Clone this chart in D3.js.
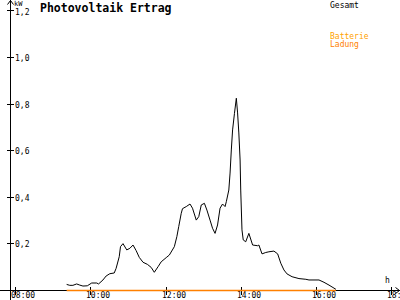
<!DOCTYPE html>
<html>
<head>
<meta charset="utf-8">
<script src="https://cdn.jsdelivr.net/npm/d3@7"></script>
<style>
body { margin: 0; background: #fff; }
svg { display: block; }
text { font-family: "DejaVu Sans Mono", monospace; }
</style>
</head>
<body>
<div id="chart"></div>
<script>
var zeiten = ["09:22","09:27","09:32","09:38","09:43","09:48","09:55","10:02","10:10","10:13",
    "10:20","10:25","10:31","10:38","10:41","10:46","10:48","10:52","10:58","11:03",
    "11:08","11:13","11:18","11:24","11:31","11:37","11:42","11:48","11:53","12:01",
    "12:06","12:14","12:18","12:21","12:25","12:27","12:33","12:39","12:43","12:49",
    "12:53","12:57","13:02","13:06","13:11","13:15","13:19","13:23","13:27","13:31",
    "13:35","13:37","13:41","13:43","13:45","13:47","13:50","13:53","13:55","13:57",
    "13:59","14:00","14:02","14:04","14:08","14:13","14:19","14:27","14:29","14:34",
    "14:40","14:45","14:53","14:59","15:04","15:09","15:14","15:22","15:33","15:44",
    "15:49","16:05","16:13","16:21","16:32"];
var gesamt = [0.024,0.020,0.020,0.026,0.021,0.017,0.018,0.030,0.030,0.026,
    0.043,0.060,0.070,0.073,0.093,0.143,0.186,0.199,0.172,0.179,
    0.193,0.169,0.140,0.119,0.110,0.097,0.076,0.100,0.121,0.139,
    0.150,0.186,0.229,0.272,0.329,0.349,0.358,0.369,0.351,0.300,
    0.315,0.365,0.372,0.343,0.300,0.265,0.243,0.279,0.351,0.369,
    0.358,0.379,0.429,0.502,0.601,0.687,0.758,0.823,0.760,0.674,
    0.558,0.429,0.258,0.215,0.207,0.243,0.193,0.190,0.193,0.155,
    0.161,0.164,0.167,0.155,0.115,0.086,0.069,0.057,0.049,0.046,
    0.043,0.043,0.033,0.021,0.003];
// Ladung: ganze Zeit 0
var ladungZeiten = ["09:22","16:32"];
var ladung = [0, 0];

var xTicks = [8, 10, 12, 14, 16, 18];
var xTickLabels = ["08:00","10:00","12:00","14:00","16:00","18:00"];
var yTicks = [0.2, 0.4, 0.6, 0.8, 1.0, 1.2];
var yTickLabels = ["0,2","0,4","0,6","0,8","1,0","1,2"];
var serien = ["Gesamt", "Batterie", "Ladung"];
var farben = ["#000000", "#ffa200", "#ff8000"];

var width = 400, height = 300;
var x0 = 10; // y-Achse
var y0 = 290; // x-Achse

function stunden(t) {
    var p = t.split(":");
    return +p[0] + p[1] / 60;
}

var x = d3.scaleLinear().domain([8, 18]).range([15.3, 391]);
var y = d3.scaleLinear().domain([0, 1.2]).range([y0, 10.4]);

var svg = d3.select("#chart").append("svg")
    .attr("width", width)
    .attr("height", height);

// Achsen
var achsen = svg.append("g").attr("stroke", "#000").attr("fill", "none").attr("shape-rendering", "crispEdges");
achsen.append("line").attr("x1", x0 + 0.5).attr("x2", x0 + 0.5).attr("y1", 0).attr("y2", height);
achsen.append("line").attr("x1", 0).attr("x2", width).attr("y1", y0 + 0.5).attr("y2", y0 + 0.5);
// Pfeile
svg.append("path").attr("d", "M7.5,4.5 L10.5,0.5 L13.5,4.5").attr("stroke", "#000").attr("fill", "none");
svg.append("path").attr("d", "M395.5,287.5 L399.5,290.5 L395.5,293.5").attr("stroke", "#000").attr("fill", "none");

// y-Ticks
yTicks.forEach(function (d, i) {
    var yy = Math.round(y(d)) + 0.5;
    achsen.append("line").attr("x1", 7).attr("x2", 14).attr("y1", yy).attr("y2", yy);
    svg.append("text").attr("x", 15).attr("y", Math.max(yy + 3, 14.5))
        .style("font-size", "8px").text(yTickLabels[i]);
});
svg.append("text").attr("x", 14).attr("y", 6).style("font-size", "7px").text("kW");

// x-Ticks
xTicks.forEach(function (d, i) {
    var xx = Math.round(x(d)) + 0.5;
    achsen.append("line").attr("x1", xx).attr("x2", xx).attr("y1", y0 - 3).attr("y2", y0 + 5);
    svg.append("text").attr("x", xx - 4.5).attr("y", 298)
        .style("font-size", "8px").text(xTickLabels[i]);
});
svg.append("text").attr("x", 385).attr("y", 283).style("font-size", "8px").text("h");

// Titel
svg.append("text").attr("x", 40).attr("y", 12)
    .style("font-size", "11.5px").style("font-weight", "bold").text("Photovoltaik Ertrag");

// Legende
var legY = [8, 39, 47];
serien.forEach(function (s, i) {
    svg.append("text").attr("x", 330).attr("y", legY[i])
        .style("font-size", "8px").attr("fill", farben[i]).text(s);
});

var linie = d3.line()
    .x(function (d) { return x(d.t); })
    .y(function (d) { return y(d.v); });

var ladungDaten = ladungZeiten.map(function (t, i) { return { t: stunden(t), v: ladung[i] }; });
svg.append("path").datum(ladungDaten)
    .attr("d", linie)
    .attr("transform", "translate(0,0.5)")
    .attr("stroke", farben[2])
    .attr("stroke-width", 1.5)
    .attr("fill", "none");

var gesamtDaten = zeiten.map(function (t, i) { return { t: stunden(t), v: gesamt[i] }; });
svg.append("path").datum(gesamtDaten)
    .attr("d", linie)
    .attr("stroke", farben[0])
    .attr("stroke-width", 1)
    .attr("fill", "none");
</script>
</body>
</html>
